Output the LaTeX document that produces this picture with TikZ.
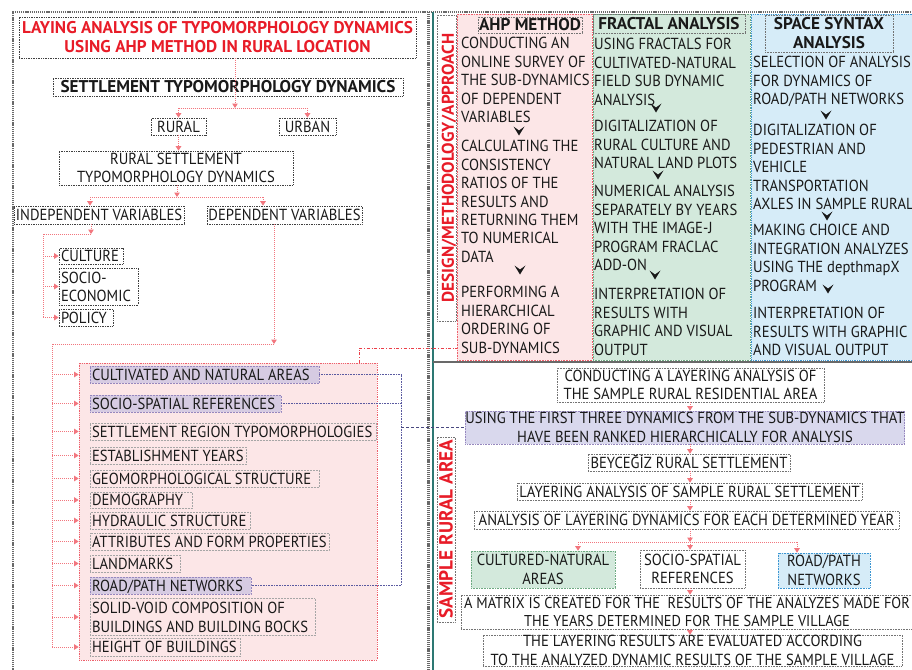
\documentclass[tikz,border=0pt]{standalone}
\usepackage{fontspec}
\setmainfont{PT Sans}[FakeStretch=0.915]
\newfontfamily\bfam{PT Sans}[FakeStretch=1.01]
\usetikzlibrary{arrows.meta}
\definecolor{tred}{RGB}{232,28,40}
\definecolor{arr}{RGB}{242,118,126}
\definecolor{pinkf}{RGB}{252,230,231}
\definecolor{pinkd}{RGB}{238,96,108}
\definecolor{purf}{RGB}{214,203,226}
\definecolor{purd}{RGB}{150,135,190}
\definecolor{lavf}{RGB}{217,216,237}
\definecolor{greenf}{RGB}{211,233,220}
\definecolor{greend}{RGB}{110,170,130}
\definecolor{bluef}{RGB}{214,236,248}
\definecolor{blued}{RGB}{60,150,210}
\definecolor{tealc}{RGB}{45,120,115}
\definecolor{panelg}{RGB}{105,105,105}
\definecolor{conn}{RGB}{90,90,160}
\definecolor{txt}{RGB}{25,25,25}
\newcommand\fs{\fontsize{16}{18.4}\selectfont}
\newcommand\fsb{\bfam\fontsize{17}{19}\selectfont\bfseries}
\newcommand\fsvl{\bfam\fontsize{19}{19}\selectfont\bfseries}
\newcommand\boxnode[7]{\pgfmathsetmacro\mybw{#5-#3}\pgfmathsetmacro\mybh{#6-#4}\pgfmathsetmacro\mycx{(#3+#5)/2}\pgfmathsetmacro\mycy{(#4+#6)/2}\node[#1, minimum width=\mybw pt, minimum height=\mybh pt] (#2) at (\mycx,\mycy) {#7};}
\newcommand\itemnode[7][]{\pgfmathsetmacro\mybw{#5-#3}\pgfmathsetmacro\mytw{#5-#3-4}\pgfmathsetmacro\mybh{#6-#4}\pgfmathsetmacro\mycx{(#3+#5)/2}\pgfmathsetmacro\mycy{(#4+#6)/2}\node[item, #1, minimum width=\mybw pt, minimum height=\mybh pt] (#2) at (\mycx,\mycy) {\makebox[\mytw pt][l]{#7}};}
\newcommand\mlines[1]{\raisebox{-2.5pt}[\height][\depth]{\begin{tabular}{@{}l@{}}#1\end{tabular}}}
\newcommand\para[4]{\node[para] (#1) at (#2,{#3-7.4}) {\rule{0pt}{13pt}#4};}
\newcommand\chev[2]{\fill[txt] ({#1-5.5},{#2-4.5}) -- (#1,{#2-0.5}) -- ({#1+5.5},{#2-4.5}) -- (#1,{#2+4.5}) -- cycle;}
\begin{document}
\begin{tikzpicture}[x=1pt,y=-1pt,
  every node/.style={inner sep=0pt, text=txt, font=\fs},
  one/.style={text height=11.2pt, text depth=0pt},
  oneb/.style={text height=11.9pt, text depth=0pt},
  dbox/.style={draw=black!75, densely dotted, line width=0.7pt, align=center},
  lbox/.style={draw=black!55, densely dotted, line width=0.6pt, align=center},
  item/.style={draw=black!35, densely dotted, line width=0.5pt},
  para/.style={anchor=north west, align=left},
  flow/.style={draw=arr, densely dotted, line width=1pt},
  aflow/.style={flow, -{Triangle[width=5.5pt,length=4.5pt]}},
  pcon/.style={draw=conn, densely dotted, line width=0.6pt},
  panel/.style={draw=panelg, line width=2.2pt, dash pattern=on 1.2pt off 0.9pt},
]
\useasboundingbox (0,0) rectangle (912,669);
\clip (0,0) rectangle (912,669);
\fill[white] (0,0) rectangle (912,669);
% panels
\draw[panel] (13,680) -- (13,12) -- (912,12);
\draw[panel] (428.5,12) -- (428.5,680);
\draw[tealc, line width=1.4pt] (433,12) -- (433,680);
\draw[panelg, line width=2pt] (433,362) -- (912,362);
% method columns
\boxnode{fill=pinkf, draw=pinkd, densely dotted, line width=0.6pt}{ahpcol}{457}{14}{592}{360}{}
\boxnode{fill=greenf, draw=greend, densely dotted, line width=0.6pt}{fraccol}{593}{14}{750}{360}{}
\boxnode{fill=bluef, draw=blued, densely dotted, line width=0.8pt}{spacecol}{751}{14}{916}{360}{}
\boxnode{lbox}{designbox}{437}{15}{456}{321}{}
\node[rotate=90, font=\fsb, text=tred, oneb] (design) at (448,168) {DESIGN/METHODOLOGY/APPROACH};
\boxnode{lbox, font=\fsb, oneb}{ahph}{478}{17}{582}{33}{AHP METHOD}
\boxnode{lbox, font=\fsb, oneb}{frach}{593}{14}{745}{33}{FRACTAL ANALYSIS}
\boxnode{lbox, font=\fsb}{spaceh}{765}{15}{893}{52}{SPACE SYNTAX\\ANALYSIS}
\para{a1}{461}{43}{CONDUCTING AN\\ONLINE SURVEY OF\\THE SUB-DYNAMICS\\OF DEPENDENT\\VARIABLES}
\chev{519}{131}
\para{a2}{461}{146}{CALCULATING THE\\CONSISTENCY\\RATIOS OF THE\\RESULTS AND\\RETURNING THEM\\TO NUMERICAL\\DATA}
\chev{520}{270}
\para{a3}{461}{292}{PERFORMING A\\HIERARCHICAL\\ORDERING OF\\SUB-DYNAMICS}
\para{f1}{594}{44}{USING FRACTALS FOR\\CULTIVATED-NATURAL\\FIELD SUB DYNAMIC\\ANALYSIS}
\chev{656}{108}
\para{f2}{594}{126}{DIGITALIZATION OF\\RURAL CULTURE AND\\NATURAL LAND PLOTS}
\chev{658}{175}
\para{f3}{594}{191}{NUMERICAL ANALYSIS\\SEPARATELY BY YEARS\\WITH THE IMAGE-J\\PROGRAM FRACLAC\\ADD-ON}
\chev{655}{275}
\para{f4}{594}{294}{INTERPRETATION OF\\RESULTS WITH\\GRAPHIC AND VISUAL\\OUTPUT}
\para{s1}{753}{62}{SELECTION OF ANALYSIS\\FOR DYNAMICS OF\\ROAD/PATH NETWORKS}
\chev{826}{115}
\para{s2}{753}{130}{DIGITALIZATION OF\\PEDESTRIAN AND\\VEHICLE\\TRANSPORTATION\\AXLES IN SAMPLE RURAL}
\chev{827}{216}
\para{s3}{753}{230}{MAKING CHOICE AND\\INTEGRATION ANALYZES\\USING THE depthmapX\\PROGRAM}
\chev{828}{289}
\para{s4}{753}{313}{INTERPRETATION OF\\RESULTS WITH GRAPHIC\\AND VISUAL OUTPUT}
% left panel
\boxnode{dbox, font=\fsb, text=tred}{title}{19}{17}{416}{58}{LAYING ANALYSIS OF TYPOMORPHOLOGY DYNAMICS\\USING AHP METHOD IN RURAL LOCATION}
\boxnode{dbox, font=\fsb, oneb}{settle}{53}{78}{403}{96}{SETTLEMENT TYPOMORPHOLOGY DYNAMICS}
\boxnode{dbox, one}{rural}{151}{118}{206}{135}{RURAL}
\boxnode{dbox, one}{urban}{279}{118}{336}{135}{URBAN}
\boxnode{dbox}{rset}{59}{151}{293}{185}{RURAL SETTLEMENT\\TYPOMORPHOLOGY DYNAMICS}
\boxnode{dbox, one}{indep}{14}{206}{184}{224}{INDEPENDENT VARIABLES}
\boxnode{dbox, one}{dep}{207}{206}{362}{224}{DEPENDENT VARIABLES}
\itemnode[draw=black!75, line width=0.7pt, one]{culture}{59}{248}{123}{264}{CULTURE}
\itemnode[draw=black!75, line width=0.7pt]{socio}{59}{270}{138}{303}{\mlines{SOCIO-\\ECONOMIC}}
\itemnode[draw=black!75, line width=0.7pt, one]{policy}{59}{309}{113}{326}{POLICY}
\boxnode{fill=pinkf, draw=pinkd, densely dotted, line width=0.8pt}{pinkbox}{79}{363}{377}{660}{}
\itemnode[fill=purf, draw=purd, one]{cna}{90}{366}{319}{383}{CULTIVATED AND NATURAL AREAS}
\itemnode[fill=purf, draw=purd, one]{ssr}{90}{395}{281}{412}{SOCIO-SPATIAL REFERENCES}
\itemnode[one]{srt}{90}{423}{376}{440}{SETTLEMENT REGION TYPOMORPHOLOGIES}
\itemnode[one]{est}{90}{447}{246}{464}{ESTABLISHMENT YEARS}
\itemnode[one]{geo}{90}{470}{319}{487}{GEOMORPHOLOGICAL STRUCTURE}
\itemnode[one]{dem}{90}{492}{192}{508}{DEMOGRAPHY}
\itemnode[one]{hyd}{90}{512}{250}{529}{HYDRAULIC STRUCTURE}
\itemnode[one]{att}{90}{533}{329}{550}{ATTRIBUTES AND FORM PROPERTIES}
\itemnode[one]{lan}{90}{555}{180}{572}{LANDMARKS}
\itemnode[fill=purf, draw=purd, one]{road}{90}{577}{251}{594}{ROAD/PATH NETWORKS}
\itemnode{solid}{90}{600}{315}{634}{\mlines{SOLID-VOID COMPOSITION OF\\BUILDINGS AND BUILDING BOCKS}}
\itemnode[one]{height}{90}{638}{240}{656}{HEIGHT OF BUILDINGS}
% lower right
\boxnode{lbox}{b1}{557}{368}{824}{402}{CONDUCTING A LAYERING ANALYSIS OF\\THE SAMPLE RURAL RESIDENTIAL AREA}
\boxnode{fill=lavf, draw=purd, densely dotted, line width=0.6pt, align=center}{b2}{466}{411}{904}{444}{USING THE FIRST THREE DYNAMICS FROM THE SUB-DYNAMICS THAT\\HAVE BEEN RANKED HIERARCHICALLY FOR ANALYSIS}
\boxnode{lbox, one}{b3}{588}{454}{790}{471}{BEYCEĞİZ RURAL SETTLEMENT}
\boxnode{lbox, one}{b4}{517}{483}{862}{500}{LAYERING ANALYSIS OF SAMPLE RURAL SETTLEMENT}
\boxnode{lbox, one}{b5}{474}{511}{899}{529}{ANALYSIS OF LAYERING DYNAMICS FOR EACH DETERMINED YEAR}
\boxnode{fill=greenf, draw=greend, densely dotted, line width=0.6pt, align=center}{c1}{471}{551}{615}{588}{CULTURED-NATURAL\\AREAS}
\boxnode{lbox}{c2}{640}{550}{745}{588}{SOCIO-SPATIAL\\REFERENCES}
\boxnode{fill=bluef, draw=blued, densely dotted, line width=0.6pt, align=center}{c3}{778}{553}{870}{588}{ROAD/PATH\\NETWORKS}
\boxnode{lbox, font=\fontsize{15.7}{18.4}\selectfont}{b6}{461}{595}{913}{629}{A MATRIX IS CREATED FOR THE\ \ RESULTS OF THE ANALYZES MADE FOR\\THE YEARS DETERMINED FOR THE SAMPLE VILLAGE}
\boxnode{lbox}{b7}{483}{635}{902}{666}{THE LAYERING RESULTS ARE EVALUATED ACCORDING\\TO THE ANALYZED DYNAMIC RESULTS OF THE SAMPLE VILLAGE}
\boxnode{lbox}{samplebox}{437}{437}{455}{622}{}
\node[rotate=90, font=\fsvl, text=tred, text height=13.3pt, text depth=0pt] (sample) at (446,529) {SAMPLE RURAL AREA};
% connectors left
\coordinate (j1) at (235,108);
\draw[aflow] (title.south -| j1) -- (j1);
\draw[flow] (rural.north |- j1) -- (urban.north |- j1);
\draw[aflow] (rural.north |- j1) -- (rural.north);
\draw[aflow] (urban.north |- j1) -- (urban.north);
\draw[aflow] (rural.south) -- (rural.south |- rset.north);
\coordinate (j2) at (177,197);
\coordinate (ji) at (90,197);
\coordinate (jd) at (263,197);
\draw[aflow] (rset.south -| j2) -- (j2);
\draw[flow] (ji) -- (jd);
\draw[aflow] (ji) -- (ji |- indep.north);
\draw[aflow] (jd) -- (jd |- dep.north);
\coordinate (ki) at (91,234);
\coordinate (kl) at (43,234);
\draw[aflow] (ki |- indep.south) -- (ki);
\draw[flow] (ki) -- (kl) -- (kl |- policy.west);
\foreach \n in {culture,socio,policy} \draw[aflow] (kl |- \n.west) -- (\n.west);
\coordinate (kd) at (274,344);
\coordinate (kdl) at (52,344);
\draw[aflow] (kd |- dep.south) -- (kd);
\draw[flow] (kd) -- (kdl) -- (kdl |- height.west);
\foreach \n in {cna,ssr,srt,est,geo,dem,hyd,att,lan,road,solid,height} \draw[aflow] (kdl |- \n.west) -- (pinkbox.west |- \n.west);
\coordinate (pv) at (401,0);
\draw[pcon] (cna.east) -- (pv |- cna.east) -- (pv |- road.east) -- (road.east);
\draw[pcon] (ssr.east) -- (pv |- ssr.east);
\draw[conn!80!black, densely dashed, line width=0.6pt] (pv |- b2.west) -- (b2.west);
\coordinate (rd) at (359,348);
\draw[tred!85, dash dot, line width=0.8pt] (rd |- pinkbox.north) -- (rd) -- (ahpcol.west |- rd);
% connectors right
\coordinate (cx) at (690,0);
\draw[aflow] (cx |- b1.south) -- (cx |- b2.north);
\draw[aflow] (cx |- b2.south) -- (cx |- b3.north);
\draw[aflow] (cx |- b3.south) -- (cx |- b4.north);
\draw[aflow] (cx |- b4.south) -- (cx |- b5.north);
\coordinate (jb) at (690,542);
\coordinate (jb1) at (578,542);
\coordinate (jb3) at (797,542);
\draw[aflow] (cx |- b5.south) -- (jb);
\draw[flow] (jb1) -- (jb3);
\draw[aflow] (jb1) -- (jb1 |- c1.north);
\draw[aflow] (jb) -- (jb |- c2.north);
\draw[aflow] (jb3) -- (jb3 |- c3.north);
\draw[aflow] (cx |- c2.south) -- (cx |- b6.north);
\draw[aflow] (cx |- b6.south) -- (cx |- b7.north);
\end{tikzpicture}
\end{document}
